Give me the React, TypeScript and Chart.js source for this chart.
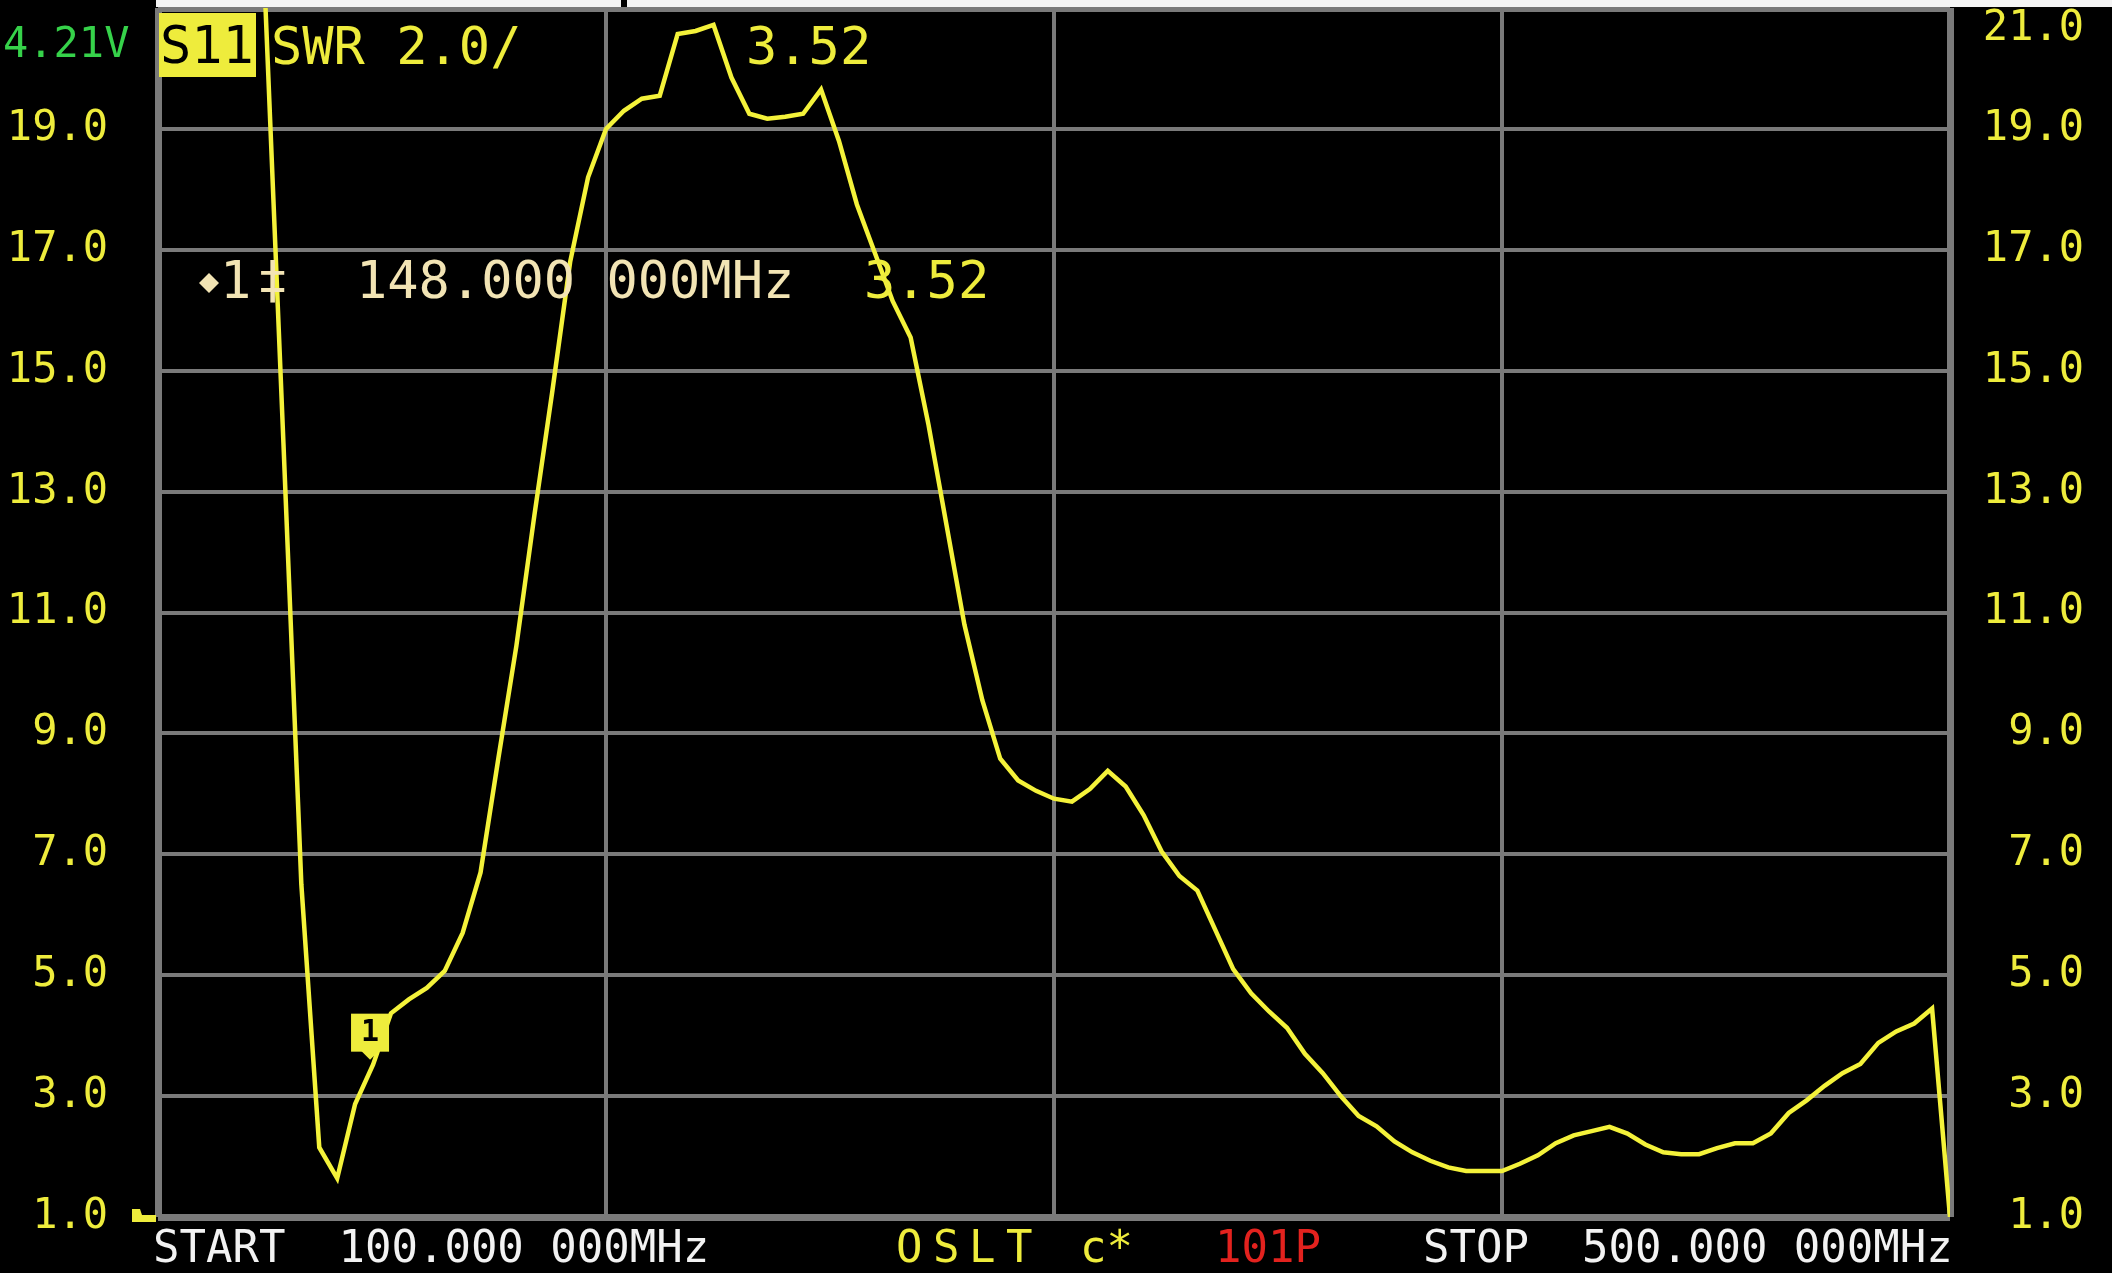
import React, { useEffect, useRef } from 'react';
import { Chart, registerables } from 'chart.js';

Chart.register(...registerables);

// Sweep frequencies (MHz), 101 points
const freqMHz = [
  100, 104, 108, 112, 116, 120, 124, 128, 132, 136,
  140, 144, 148, 152, 156, 160, 164, 168, 172, 176,
  180, 184, 188, 192, 196, 200, 204, 208, 212, 216,
  220, 224, 228, 232, 236, 240, 244, 248, 252, 256,
  260, 264, 268, 272, 276, 280, 284, 288, 292, 296,
  300, 304, 308, 312, 316, 320, 324, 328, 332, 336,
  340, 344, 348, 352, 356, 360, 364, 368, 372, 376,
  380, 384, 388, 392, 396, 400, 404, 408, 412, 416,
  420, 424, 428, 432, 436, 440, 444, 448, 452, 456,
  460, 464, 468, 472, 476, 480, 484, 488, 492, 496,
  500,
];

// SWR (values above 21 are off the top of the screen)
const swr = [
  22, 22, 22, 22, 22, 22, 21, 13.8, 6.5, 2.15,
  1.64, 2.87, 3.52, 4.37, 4.6, 4.79, 5.07, 5.7, 6.7, 8.6,
  10.45, 12.6, 14.65, 16.8, 18.2, 19.0, 19.3, 19.5, 19.55, 20.57,
  20.62, 20.72, 19.85, 19.25, 19.17, 19.2, 19.25, 19.65, 18.8, 17.75,
  16.95, 16.15, 15.55, 14.1, 12.45, 10.8, 9.55, 8.58, 8.22, 8.05,
  7.92, 7.87, 8.08, 8.38, 8.12, 7.65, 7.05, 6.64, 6.4, 5.75,
  5.1, 4.7, 4.4, 4.13, 3.7, 3.38, 3.0, 2.67, 2.5, 2.25,
  2.07, 1.93, 1.82, 1.76, 1.76, 1.76, 1.88, 2.02, 2.22, 2.35,
  2.42, 2.49, 2.38, 2.2, 2.07, 2.04, 2.04, 2.14, 2.22, 2.22,
  2.38, 2.72, 2.93, 3.17, 3.38, 3.53, 3.88, 4.07, 4.2, 4.45,
  1.0,
];

const Y_MIN = 1;
const Y_MAX = 21;
const Y_STEP = 2;
const X_MIN = 100;
const X_MAX = 500;
const X_STEP = 100;

const markerFreq = 148;
const markerValue = 3.52;

const texts = {
  battery: '4.21V',
  trace: 'S11',
  format: 'SWR 2.0/',
  traceValue: '3.52',
  markerFreq: '148.000 000MHz',
  markerValue: '3.52',
  start: 'START  100.000 000MHz',
  stop: 'STOP  500.000 000MHz',
  cal: ['O', 'S', 'L', 'T'],
  calFlag: 'c*',
  points: '101P',
};

const MONO = "'DejaVu Sans Mono', 'Liberation Mono', monospace";
const YELLOW = '#eeec3c';
const TRACE = '#f4f23a';
const GRID = '#7a7a7a';
const GREEN = '#36d24a';
const CREAM = '#f2e4b4';
const WHITE = '#f2f2f2';
const RED = '#e3221e';

const W = 2112;
const H = 1273;

const deco = {
  id: 'deco',
  beforeDraw(chart: any) {
    const ctx = chart.ctx;
    ctx.save();
    ctx.fillStyle = '#000';
    ctx.fillRect(0, 0, W, H);
    ctx.restore();
  },
  afterDraw(chart: any) {
    const ctx = chart.ctx;
    const xs = chart.scales.x;
    const ys = chart.scales.y;
    ctx.save();
    // top white strip
    ctx.fillStyle = '#f4f4f4';
    ctx.fillRect(156, 0, W - 156, 7);
    ctx.fillStyle = '#000';
    ctx.fillRect(621, 0, 6, 7);

    ctx.textBaseline = 'middle';
    ctx.textAlign = 'left';

    // battery
    ctx.font = `42px ${MONO}`;
    ctx.fillStyle = GREEN;
    ctx.fillText(texts.battery, 3, 46);

    // S11 box
    ctx.fillStyle = YELLOW;
    ctx.fillRect(159, 13, 97, 64);
    ctx.font = `52px ${MONO}`;
    ctx.fillStyle = '#000';
    ctx.fillText(texts.trace, 160, 49);

    ctx.fillStyle = YELLOW;
    ctx.fillText(texts.format, 271, 50);
    ctx.fillText(texts.traceValue, 746, 50);

    // marker info line
    const my = 284;
    ctx.fillStyle = CREAM;
    ctx.beginPath();
    ctx.moveTo(209, my - 11);
    ctx.lineTo(219, my - 1);
    ctx.lineTo(209, my + 9);
    ctx.lineTo(199, my - 1);
    ctx.closePath();
    ctx.fill();
    ctx.fillText('1', 220, my);
    ctx.fillText('\u2021', 257, my);
    ctx.fillText(texts.markerFreq, 356, my);
    ctx.fillStyle = YELLOW;
    ctx.fillText(texts.markerValue, 864, my);

    // marker on trace
    const px = xs.getPixelForValue(markerFreq);
    const py = ys.getPixelForValue(markerValue);
    ctx.fillStyle = YELLOW;
    ctx.fillRect(px - 22, py - 51, 38, 38);
    ctx.beginPath();
    ctx.moveTo(px - 12, py - 14);
    ctx.lineTo(px + 6, py - 14);
    ctx.lineTo(px - 3, py - 5);
    ctx.closePath();
    ctx.fill();
    ctx.fillStyle = '#000';
    ctx.font = `bold 30px ${MONO}`;
    ctx.textAlign = 'center';
    ctx.fillText('1', px - 3, py - 31);
    ctx.textAlign = 'left';

    // reference level marker
    const ry = ys.getPixelForValue(Y_MIN);
    ctx.fillStyle = YELLOW;
    ctx.beginPath();
    ctx.moveTo(132, ry + 5);
    ctx.lineTo(156, ry + 5);
    ctx.lineTo(156, ry - 2);
    ctx.lineTo(142, ry - 2);
    ctx.lineTo(140, ry - 8);
    ctx.lineTo(132, ry - 8);
    ctx.closePath();
    ctx.fill();

    // bottom line
    const by = 1251;
    ctx.font = `44px ${MONO}`;
    ctx.fillStyle = WHITE;
    ctx.fillText(texts.start, 153, by);
    ctx.fillText(texts.stop, 1423, by);
    ctx.fillStyle = YELLOW;
    const calX = [896, 933, 969, 1006];
    texts.cal.forEach((c, i) => ctx.fillText(c, calX[i], by));
    ctx.fillText(texts.calFlag, 1080, by);
    ctx.fillStyle = RED;
    ctx.fillText(texts.points, 1215, by);
    ctx.restore();
  },
};

export default function App() {
  const ref = useRef<HTMLCanvasElement | null>(null);
  useEffect(() => {
    if (!ref.current) return;
    const edgeW = (lo: number, hi: number) => (c: any) =>
      c.tick && (c.tick.value === lo || c.tick.value === hi) ? 7 : 4;
    const chart = new Chart(ref.current, {
      type: 'line',
      data: {
        datasets: [
          {
            data: freqMHz.map((f, i) => ({ x: f, y: swr[i] })),
            borderColor: TRACE,
            borderWidth: 4.5,
            pointRadius: 0,
            tension: 0,
            fill: false,
          },
        ],
      },
      options: {
        animation: false,
        responsive: false,
        maintainAspectRatio: false,
        devicePixelRatio: 1,
        layout: { padding: { top: 8, right: 28, left: 0, bottom: 0 } },
        plugins: { legend: { display: false }, tooltip: { enabled: false } },
        scales: {
          x: {
            type: 'linear',
            min: X_MIN,
            max: X_MAX,
            position: 'bottom',
            ticks: { display: false, stepSize: X_STEP },
            grid: { color: GRID, lineWidth: edgeW(X_MIN, X_MAX), drawTicks: false },
            border: { display: false },
            afterFit: (s: any) => {
              s.height = 56;
              s.paddingLeft = 0;
              s.paddingRight = 0;
            },
          },
          y: {
            type: 'linear',
            position: 'left',
            min: Y_MIN,
            max: Y_MAX,
            ticks: {
              stepSize: Y_STEP,
              padding: 50,
              color: YELLOW,
              font: { family: MONO, size: 42 },
              callback: (v: any) => (Number(v) === Y_MAX ? '' : Number(v).toFixed(1)),
            },
            grid: { color: GRID, lineWidth: edgeW(Y_MIN, Y_MAX), drawTicks: false },
            border: { display: false },
            afterFit: (s: any) => {
              s.width = 158;
              s.paddingTop = 0;
              s.paddingBottom = 0;
            },
          },
          y2: {
            type: 'linear',
            position: 'right',
            min: Y_MIN,
            max: Y_MAX,
            ticks: {
              stepSize: Y_STEP,
              crossAlign: 'far',
              color: YELLOW,
              font: { family: MONO, size: 42, lineHeight: 1.0 },
              callback: (v: any) =>
                Number(v) === Y_MAX ? ['', Number(v).toFixed(1)] : Number(v).toFixed(1),
            },
            grid: { drawOnChartArea: false, drawTicks: false },
            border: { display: false },
            afterFit: (s: any) => {
              s.width = 134;
              s.paddingTop = 0;
              s.paddingBottom = 0;
            },
          },
        },
      } as any,
      plugins: [deco],
    });
    return () => chart.destroy();
  }, []);
  return (
    <div style={{ position: 'fixed', left: 0, top: 0, width: W, height: H, background: '#000' }}>
      <canvas ref={ref} width={W} height={H} style={{ width: W, height: H, display: 'block' }} />
    </div>
  );
}
